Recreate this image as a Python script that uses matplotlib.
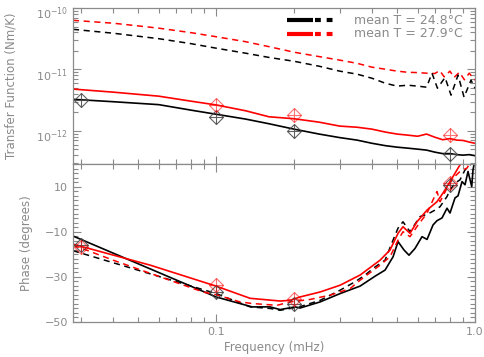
import matplotlib
matplotlib.use("Agg")
import matplotlib.pyplot as plt
from matplotlib.ticker import LogLocator, FixedLocator, MultipleLocator, FuncFormatter, NullFormatter
from matplotlib.transforms import ScaledTranslation
import numpy as np

# ---- data ----
# upper panel: transfer function (Nm/K)
FREQ_SOLID = [0.028, 0.04, 0.06, 0.08, 0.1, 0.13, 0.16, 0.2, 0.25, 0.3, 0.35, 0.4,
              0.45, 0.5, 0.55, 0.6, 0.65, 0.7, 0.75, 0.8, 0.85, 0.9, 0.95, 1.0]
TF_BLACK_SOLID = [3.27e-12, 2.99e-12, 2.68e-12, 2.18e-12, 1.87e-12, 1.56e-12, 1.31e-12,
                  1.07e-12, 8.9e-13, 7.8e-13, 7.1e-13, 6.3e-13, 5.77e-13, 5.45e-13,
                  5.25e-13, 5.06e-13, 4.88e-13, 4.52e-13, 4.28e-13, 4.28e-13, 4.12e-13,
                  4.04e-13, 4.12e-13, 3.96e-13]
TF_RED_SOLID = [4.8e-12, 4.28e-12, 3.68e-12, 3.05e-12, 2.65e-12, 2.13e-12, 1.70e-12,
                1.58e-12, 1.39e-12, 1.20e-12, 1.15e-12, 1.07e-12, 9.6e-13, 8.9e-13,
                8.55e-13, 8.2e-13, 8.9e-13, 7.9e-13, 7.2e-13, 7.5e-13, 7.1e-13,
                7.0e-13, 6.6e-13, 6.3e-13]

FREQ_RED_DASH = [0.028, 0.04, 0.06, 0.08, 0.1, 0.13, 0.16, 0.2, 0.25, 0.3, 0.35, 0.4,
                 0.45, 0.5, 0.55, 0.6, 0.65, 0.7, 0.73, 0.76, 0.8, 0.83, 0.87, 0.91,
                 0.95, 1.0]
TF_RED_DASH = [6.3e-11, 5.66e-11, 4.70e-11, 3.97e-11, 3.41e-11, 2.83e-11, 2.35e-11,
               1.91e-11, 1.62e-11, 1.42e-11, 1.26e-11, 1.09e-11, 1.01e-11, 9.4e-12,
               9.0e-12, 8.9e-12, 8.7e-12, 8.6e-12, 9.6e-12, 7.6e-12, 9.4e-12, 7.4e-12,
               9.0e-12, 6.8e-12, 8.7e-12, 6.7e-12]

FREQ_BLACK_DASH = [0.028, 0.04, 0.06, 0.08, 0.1, 0.13, 0.16, 0.2, 0.25, 0.3, 0.35, 0.4,
                   0.45, 0.5, 0.55, 0.6, 0.65, 0.682, 0.716, 0.766, 0.808, 0.86, 0.907,
                   0.965, 1.0]
TF_BLACK_DASH = [4.5e-11, 3.89e-11, 3.17e-11, 2.63e-11, 2.22e-11, 1.84e-11, 1.57e-11,
                 1.36e-11, 1.13e-11, 9.4e-12, 8.4e-12, 7.2e-12, 5.98e-12, 5.36e-12,
                 5.55e-12, 5.36e-12, 5.15e-12, 8.7e-12, 4.96e-12, 7.4e-12, 3.82e-12,
                 8.1e-12, 3.55e-12, 6.7e-12, 4.96e-12]

# lower panel: phase (degrees)
FREQ_PH_BLACK_SOLID = [0.028, 0.1, 0.1377, 0.1616, 0.1767, 0.2018, 0.211, 0.2521, 0.3012,
                       0.3597, 0.4111, 0.4493, 0.4825, 0.5043, 0.5318, 0.556, 0.5866,
                       0.6241, 0.6528, 0.6884, 0.7132, 0.7457, 0.7796, 0.8007, 0.8372,
                       0.8598, 0.8909, 0.915, 0.9397, 0.9712, 0.9824, 1.0]
PH_BLACK_SOLID = [-11.9, -38.9, -43.3, -43.3, -44.5, -43.3, -43.8, -41.1, -37.4, -34.1,
                  -29.7, -27.0, -21.1, -14.4, -18.1, -20.4, -17.4, -12.2, -13.4, -7.0,
                  -5.1, -3.9, 0.4, -1.7, 5.0, 5.9, 12.2, 10.8, 16.7, 10.0, 17.4, 21.9]

FREQ_PH_BLACK_DASH = [0.028, 0.1, 0.1353, 0.1616, 0.1767, 0.211, 0.2521, 0.3012, 0.344,
                      0.376, 0.4111, 0.4493, 0.4825, 0.5043, 0.527, 0.561, 0.613, 0.659,
                      0.701, 0.733, 0.7796, 0.8007, 0.8372, 0.875, 0.915, 0.9565, 1.0]
PH_BLACK_DASH = [-18.4, -37.4, -43.3, -44.0, -44.8, -43.2, -40.4, -35.9, -32.2, -29.2,
                 -25.6, -22.6, -13.7, -8.4, -5.6, -10.0, -3.3, -2.1, -0.4, 1.1, 5.6,
                 8.5, 11.5, 13.0, 17.4, 19.6, 24.0]

FREQ_PH_RED_SOLID = [0.028, 0.0556, 0.1, 0.1353, 0.1767, 0.1931, 0.211, 0.2521, 0.3012,
                     0.3597, 0.4298, 0.4696, 0.5043, 0.527, 0.561, 0.597, 0.6528,
                     0.7132, 0.752, 0.8007, 0.852, 0.899]
PH_RED_SOLID = [-15.5, -24.8, -34.1, -39.5, -40.7, -40.4, -38.9, -36.7, -33.7, -29.2,
                -22.6, -18.1, -10.7, -7.8, -10.7, -5.6, -0.4, 3.3, 7.1, 12.2, 17.4, 21.9]

FREQ_PH_RED_DASH = [0.028, 0.04, 0.0608, 0.0891, 0.1, 0.1238, 0.1377, 0.172, 0.1931,
                    0.2307, 0.2756, 0.3292, 0.3597, 0.4298, 0.4696, 0.5043, 0.527,
                    0.561, 0.6026, 0.6528, 0.6884, 0.7132, 0.733, 0.7796, 0.8222,
                    0.875, 0.931, 0.9565, 1.0]
PH_RED_DASH = [-15.9, -22.6, -30.0, -36.7, -37.9, -41.1, -41.8, -42.6, -41.1, -40.0,
               -38.1, -35.2, -31.5, -24.8, -21.1, -13.7, -10.0, -12.2, -7.0, -1.8,
               4.1, 7.8, 3.3, 9.3, 13.7, 16.7, 18.2, 20.4, 26.0]

# diamond + cross markers
MARK_FREQ_BLACK_TF = [0.03, 0.1, 0.2, 0.8]
MARK_BLACK_TF = [3.17e-12, 1.69e-12, 1.0e-12, 4.15e-13]
MARK_FREQ_RED_TF = [0.1, 0.2, 0.8]
MARK_RED_TF = [2.65e-12, 1.81e-12, 8.55e-13]
MARK_FREQ_PH = [0.03, 0.1, 0.2, 0.8]
MARK_BLACK_PH = [-15.9, -36.7, -42.0, 10.5]
MARK_RED_PH = [-16.9, -33.8, -40.0, 11.8]

LEGEND_LABELS = ["mean T = 24.8°C", "mean T = 27.9°C"]

GRAY = "#8a8a8a"
RED = "#ff0000"

plt.rcParams["font.family"] = "DejaVu Sans"
plt.rcParams["mathtext.fontset"] = "dejavusans"

fig = plt.figure(figsize=(4.85, 3.57), dpi=100)
ax1 = fig.add_axes([0.1505, 0.5406, 0.8289, 0.4370])
ax2 = fig.add_axes([0.1505, 0.0980, 0.8289, 0.4426])

dash = (0, (4.0, 3.0))


def markers(ax, xs, ys, color, alpha):
    ax.plot(xs, ys, linestyle="none", marker="D", ms=7, mfc="none", mec=color,
            mew=0.8, alpha=alpha, clip_on=True)
    ax.plot(xs, ys, linestyle="none", marker="+", ms=10, mec=color, mew=0.8,
            alpha=alpha, clip_on=True)


# upper panel
ax1.plot(FREQ_RED_DASH, TF_RED_DASH, color=RED, lw=1.1, linestyle=dash)
ax1.plot(FREQ_BLACK_DASH, TF_BLACK_DASH, color="black", lw=1.1, linestyle=dash)
ax1.plot(FREQ_SOLID, TF_RED_SOLID, color=RED, lw=1.2)
ax1.plot(FREQ_SOLID, TF_BLACK_SOLID, color="black", lw=1.2)
markers(ax1, MARK_FREQ_BLACK_TF, MARK_BLACK_TF, "#444444", 0.85)
markers(ax1, MARK_FREQ_RED_TF, MARK_RED_TF, RED, 0.55)

ax1.set_yscale("log")
ax1.set_ylim(2.9e-13, 1e-10)
ax1.yaxis.set_major_locator(FixedLocator([1e-12, 1e-11, 1e-10]))

# lower panel
ax2.plot(FREQ_PH_BLACK_SOLID, PH_BLACK_SOLID, color="black", lw=1.2)
ax2.plot(FREQ_PH_BLACK_DASH, PH_BLACK_DASH, color="black", lw=1.1, linestyle=dash)
ax2.plot(FREQ_PH_RED_SOLID, PH_RED_SOLID, color=RED, lw=1.2)
ax2.plot(FREQ_PH_RED_DASH, PH_RED_DASH, color=RED, lw=1.1, linestyle=dash)
markers(ax2, MARK_FREQ_PH, MARK_BLACK_PH, "#444444", 0.85)
markers(ax2, MARK_FREQ_PH, MARK_RED_PH, RED, 0.55)

ax2.set_ylim(-50, 20)
ax2.yaxis.set_major_locator(FixedLocator([-50, -30, -10, 10]))
ax2.yaxis.set_minor_locator(MultipleLocator(2))
ax2.yaxis.set_major_formatter(FuncFormatter(lambda v, p: f"{v:.0f}".replace("-", "\u2212")))

for ax in (ax1, ax2):
    ax.set_xscale("log")
    ax.set_xlim(0.028, 1.0)
    ax.xaxis.set_major_locator(FixedLocator([0.1, 1.0]))
    ax.xaxis.set_minor_locator(LogLocator(base=10, subs=np.arange(2, 10) * 1.0, numticks=10))
    ax.xaxis.set_minor_formatter(NullFormatter())
    ax.tick_params(which="both", direction="in", top=True, right=True,
                   colors=GRAY, labelcolor=GRAY, labelsize=8)
    ax.tick_params(which="major", length=6, width=0.8)
    ax.tick_params(which="minor", length=3.5, width=0.8)
    for s in ax.spines.values():
        s.set_color(GRAY)
        s.set_linewidth(0.9)

ax1.xaxis.set_major_formatter(NullFormatter())
ax1.yaxis.set_minor_formatter(NullFormatter())
ax2.xaxis.set_major_formatter(FuncFormatter(lambda v, p: f"{v:.1f}"))

ax1.set_ylabel("Transfer Function (Nm/K)", color=GRAY, fontsize=8.5)
ax1.yaxis.set_label_coords(-0.139, 0.5)
ax2.set_ylabel("Phase (degrees)", color=GRAY, fontsize=8.5)
ax2.yaxis.set_label_coords(-0.0995, 0.5)
ax2.set_xlabel("Frequency (mHz)", color=GRAY, fontsize=8.5, labelpad=3)

# legend, drawn in axes coordinates
for i, (col, lab) in enumerate(zip(["black", RED], LEGEND_LABELS)):
    yy = 0.92 - i * 0.085
    ax1.plot([0.532, 0.598], [yy, yy], color=col, lw=3, transform=ax1.transAxes,
             solid_capstyle="butt")
    ax1.plot([0.602, 0.66], [yy, yy], color=col, lw=3, transform=ax1.transAxes,
             linestyle=(0, (1.4, 1.4)), dash_capstyle="butt")
    ax1.text(0.70, yy, lab, color=GRAY, fontsize=9, va="center", ha="left",
             transform=ax1.transAxes)

# push the 10^n labels down a little, as in the reference
fig.canvas.draw()
shift = ScaledTranslation(0, -3.0 / 72, fig.dpi_scale_trans)
for tick in ax1.yaxis.get_major_ticks():
    tick.label1.set_transform(tick.label1.get_transform() + shift)

fig.savefig("out.png", dpi=100)
